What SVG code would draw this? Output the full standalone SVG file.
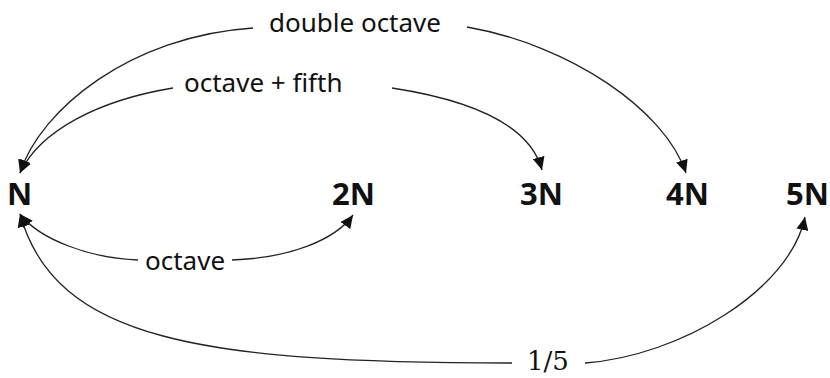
<svg xmlns="http://www.w3.org/2000/svg" width="830" height="378" viewBox="0 0 830 378">
<style>
.node{font-family:"Noto Sans","Open Sans",sans-serif;font-weight:bold;font-size:31px;fill:#111}
.lbl{font-family:"Noto Sans","Open Sans",sans-serif;font-size:26px;fill:#111}
.frac{font-family:"DejaVu Serif","Liberation Serif",serif;font-size:26px;fill:#111}
.c{fill:none;stroke:#222;stroke-width:1.3}
</style>
<defs>
<marker id="ah" markerUnits="userSpaceOnUse" markerWidth="14" markerHeight="12" refX="13" refY="6" orient="auto">
<path d="M0,0 L13,6 L0,12 z" fill="#111"/>
</marker>
</defs>
<g id="connectors">
<path class="c" d="M253,28 C130,36 40,110 20,173" marker-end="url(#ah)"/>
<path class="c" d="M467,27 C570,45 665,110 686,173" marker-end="url(#ah)"/>
<path class="c" d="M173,88 C100,100 40,130 20,173" marker-end="url(#ah)"/>
<path class="c" d="M392,88 C470,100 530,125 542,170" marker-end="url(#ah)"/>
<path class="c" d="M138,260 C90,258 40,240 20,214" marker-end="url(#ah)"/>
<path class="c" d="M232,260 C290,258 335,240 353,215" marker-end="url(#ah)"/>
<path class="c" d="M512,363 C200,363 55,340 20,214" marker-end="url(#ah)"/>
<path class="c" d="M585,363 C680,356 790,290 805,217" marker-end="url(#ah)"/>
</g>
<g id="labels">
<text class="lbl" x="269" y="32">double octave</text>
<text class="lbl" x="184" y="92">octave + fifth</text>
<text class="lbl" x="145" y="270">octave</text>
<text class="frac" x="527" y="370">1/5</text>
</g>
<g id="node-N"><text class="node" x="7" y="205">N</text></g>
<g id="node-2N"><text class="node" x="332" y="205">2N</text></g>
<g id="node-3N"><text class="node" x="520" y="205">3N</text></g>
<g id="node-4N"><text class="node" x="666" y="205">4N</text></g>
<g id="node-5N"><text class="node" x="786" y="205">5N</text></g>
</svg>
